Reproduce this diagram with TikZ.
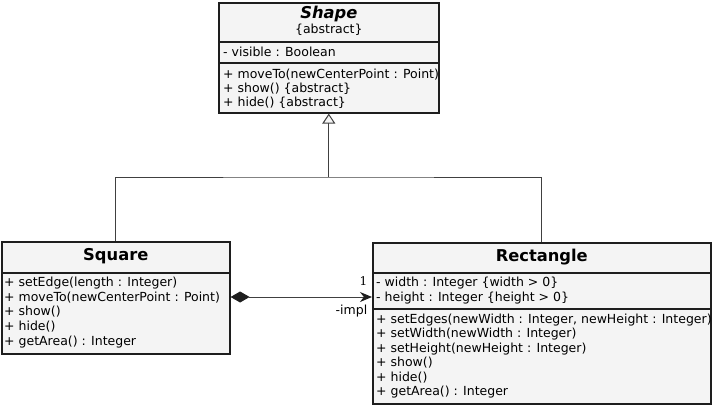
\documentclass[tikz,border=0pt]{standalone}
\usepackage{fontspec}
\setmainfont{DejaVu Sans}
\newfontfamily\multfont{DejaVu Serif}
\usetikzlibrary{arrows.meta}
\definecolor{boxfill}{HTML}{F4F4F4}
\definecolor{edge}{HTML}{1E1E1E}
\definecolor{wirecol}{HTML}{404040}

\begin{document}
\begin{tikzpicture}[x=1pt, y=-1pt,
	classbox/.style={draw=edge, line width=1.6pt, fill=boxfill, anchor=north west, inner sep=0pt},
	divider/.style={draw=edge, line width=1.6pt},
	title/.style={font=\fontsize{16.3}{18}\selectfont\bfseries, anchor=base, inner sep=0pt},
	member/.style={font=\fontsize{12.5}{14.6}\selectfont, anchor=base west, inner sep=0pt},
	wire/.style={draw=wirecol, line width=1pt}]
	\useasboundingbox (0,0) rectangle (713,405);
	\node[classbox, minimum width=220, minimum height=110] (shape) at (218,2) {};
	\node[classbox, minimum width=228, minimum height=112] (square) at (1,241) {};
	\node[classbox, minimum width=338, minimum height=161] (rect) at (372,242) {};
	\draw[divider] (shape.west |- 0,42) -- (shape.east |- 0,42);
	\draw[divider] (shape.west |- 0,63) -- (shape.east |- 0,63);
	\draw[divider] (square.west |- 0,273) -- (square.east |- 0,273);
	\draw[divider] (rect.west |- 0,273) -- (rect.east |- 0,273);
	\draw[divider] (rect.west |- 0,309) -- (rect.east |- 0,309);
	\node[title] (shape-name) at (shape.north |- 0,18.3) {\itshape Shape};
	\node[member, anchor=base] (shape-stereo) at (shape.north |- 0,33.3) {\{abstract\}};
	\node[title] (square-name) at (square.north |- 0,260.7) {Square};
	\node[title] (rect-name) at (rect.north |- 0,261.5) {Rectangle};
	\node[member] (shape-attr) at (223,56.7) {- visible : Boolean};
	\foreach \txt [count=\i] in {{+ moveTo(newCenterPoint : Point)}, {+ show() \{abstract\}}, {+ hide() \{abstract\}}}
		\node[member] (shape-op-\i) at (223, 78.3+14.2*\i-14.2) {\txt};
	\foreach \txt [count=\i] in {{+ setEdge(length : Integer)}, {+ moveTo(newCenterPoint : Point)}, {+ show()}, {+ hide()}, {+ getArea() : Integer}}
		\node[member] (square-op-\i) at (4, 286.7+14.6*\i-14.6) {\txt};
	\foreach \txt [count=\i] in {{- width : Integer \{width > 0\}}, {- height : Integer \{height > 0\}}}
		\node[member] (rect-attr-\i) at (376, 286.7+14.6*\i-14.6) {\txt};
	\foreach \txt [count=\i] in {{+ setEdges(newWidth : Integer, newHeight : Integer)}, {+ setWidth(newWidth : Integer)}, {+ setHeight(newHeight : Integer)}, {+ show()}, {+ hide()}, {+ getArea() : Integer}}
		\node[member] (rect-op-\i) at (376, 323.3+14.5*\i-14.5) {\txt};
	\coordinate (fork) at (shape.south |- 0,177);
	\draw[wire] (square.north) |- (fork) -| (rect.north);
	\draw[wire, -{Triangle[open, length=10pt, width=13pt, fill=boxfill]}] (fork) -- (shape.south);
	\coordinate (link) at (300,297);
	\draw[wire, {Diamond[length=19pt, width=11pt, color=edge]}-{Stealth[length=12pt, width=10pt, color=edge]}] (square.east |- link) -- (rect.west |- link);
	\node[font=\multfont\fontsize{12}{14}\selectfont, anchor=base east, inner sep=0pt] (mult) at (367.5,285) {1};
	\node[member, anchor=base east] (role) at (367.5,314.5) {-impl};
\end{tikzpicture}
\end{document}
